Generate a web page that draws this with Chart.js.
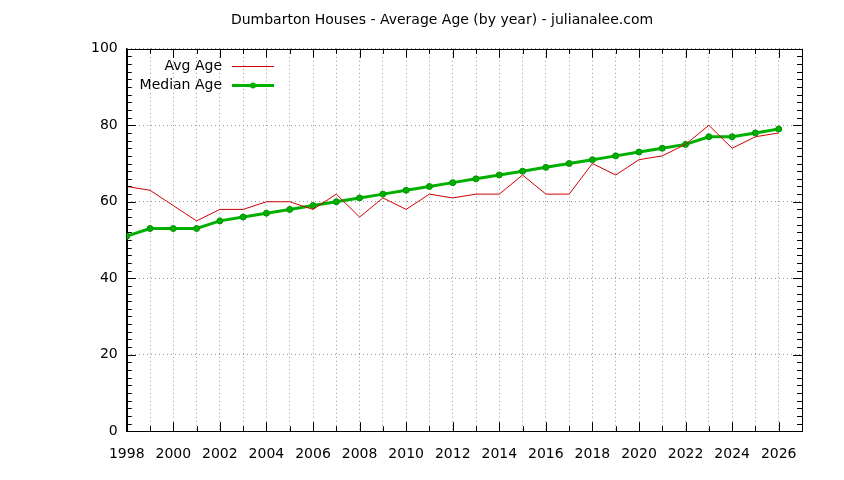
<!DOCTYPE html>
<html>
<head>
<meta charset="utf-8">
<script src="https://cdn.jsdelivr.net/npm/chart.js@4/dist/chart.umd.min.js"></script>
<style>
  body { margin: 0; background: #fff; }
  canvas { display: block; }
</style>
</head>
<body>
<canvas id="ageChart" width="844" height="480"></canvas>
<script>
// Chart data
const years = [1998, 1999, 2000, 2001, 2002, 2003, 2004, 2005, 2006, 2007, 2008, 2009, 2010, 2011, 2012,
  2013, 2014, 2015, 2016, 2017, 2018, 2019, 2020, 2021, 2022, 2023, 2024, 2025, 2026];
const avgAge = [64, 63, 59, 55, 58, 58, 60, 60, 58, 62, 56, 61, 58, 62, 61,
  62, 62, 67, 62, 62, 70, 67, 71, 72, 75, 80, 74, 77, 78];
const medianAge = [51, 53, 53, 53, 55, 56, 57, 58, 59, 60, 61, 62, 63, 64, 65,
  66, 67, 68, 69, 70, 71, 72, 73, 74, 75, 77, 77, 78, 79];
const yTicks = [0, 20, 40, 60, 80, 100];
const xLabelYears = [1998, 2000, 2002, 2004, 2006, 2008, 2010, 2012, 2014, 2016, 2018, 2020, 2022, 2024, 2026];

const FONT = 'DejaVu Sans, Verdana, sans-serif';

// Inward gnuplot-style ticks on all four sides, plus the in-plot legend
const gnuplotDecor = {
  id: 'gnuplotDecor',
  afterDraw(chart) {
    const { ctx, chartArea: a, scales: { x, y } } = chart;
    ctx.save();
    ctx.strokeStyle = '#000';
    ctx.lineWidth = 1;
    ctx.beginPath();
    for (let yr = 1998; yr <= 2027; yr++) {
      const px = Math.round(x.getPixelForValue(yr)) + 0.5;
      const len = yr % 2 === 0 ? 9 : 5;
      ctx.moveTo(px, a.bottom); ctx.lineTo(px, a.bottom - len);
      ctx.moveTo(px, a.top); ctx.lineTo(px, a.top + len);
    }
    for (let v = 0; v <= 100; v += 2) {
      const py = Math.round(y.getPixelForValue(v)) + 0.5;
      const len = v % 20 === 0 ? 9 : 5;
      ctx.moveTo(a.left, py); ctx.lineTo(a.left + len, py);
      ctx.moveTo(a.right, py); ctx.lineTo(a.right - len, py);
    }
    ctx.stroke();

    // legend
    ctx.font = '14px ' + FONT;
    ctx.textAlign = 'right';
    ctx.textBaseline = 'middle';
    chart.data.datasets.forEach((ds, i) => {
      const rowY = 66 + i * 19;
      ctx.fillStyle = '#000';
      ctx.fillText(ds.label, 222, rowY);
      ctx.strokeStyle = ds.borderColor;
      ctx.lineWidth = ds.borderWidth;
      ctx.beginPath();
      ctx.moveTo(232, rowY + 0.5);
      ctx.lineTo(274, rowY + 0.5);
      ctx.stroke();
      if (ds.pointRadius > 0) {
        ctx.fillStyle = ds.pointBackgroundColor;
        ctx.beginPath();
        ctx.arc(253, rowY + 0.5, ds.pointRadius, 0, Math.PI * 2);
        ctx.fill();
      }
    });
    ctx.restore();
  }
};

// Solid black box round the plot area
const plotFrame = {
  id: 'plotFrame',
  beforeDatasetsDraw(chart) {
    const { ctx, chartArea: a } = chart;
    ctx.save();
    ctx.strokeStyle = '#000';
    ctx.lineWidth = 1;
    ctx.strokeRect(Math.round(a.left) + 0.5, Math.round(a.top) + 0.5,
      Math.round(a.right - a.left), Math.round(a.bottom - a.top));
    ctx.restore();
  },
};

function initAgeChart() {
  const ctx = document.getElementById('ageChart').getContext('2d');
  // eslint-disable-next-line no-undef
  new Chart(ctx, {
    type: 'line',
    data: {
      datasets: [
        {
          label: 'Avg Age',
          data: years.map((yr, i) => ({ x: yr, y: avgAge[i] })),
          borderColor: '#d00000',
          borderWidth: 1,
          pointRadius: 0,
          tension: 0,
        },
        {
          label: 'Median Age',
          data: years.map((yr, i) => ({ x: yr, y: medianAge[i] })),
          borderColor: '#00b000',
          backgroundColor: '#00b000',
          pointBackgroundColor: '#00b000',
          pointBorderColor: '#009000',
          pointBorderWidth: 1,
          borderWidth: 3,
          pointRadius: 3,
          tension: 0,
        },
      ],
    },
    options: {
      responsive: false,
      animation: false,
      layout: { padding: { top: 0, right: 42, bottom: 2, left: 82 } },
      plugins: {
        legend: { display: false },
        tooltip: { enabled: false },
        title: {
          display: true,
          text: 'Dumbarton Houses - Average Age (by year) - julianalee.com',
          color: '#000',
          font: { family: FONT, size: 14, weight: 'normal' },
          padding: { top: 12, bottom: 20 },
        },
      },
      scales: {
        x: {
          type: 'linear',
          min: 1998,
          max: 2027,
          afterBuildTicks: (s) => { s.ticks = years.concat([2027]).map((v) => ({ value: v })); },
          grid: { color: '#999', lineWidth: 1, drawTicks: false },
          // dash here makes the grid lines dotted, like gnuplot
          border: { display: true, color: '#000', width: 1, dash: [1, 3] },
          ticks: {
            color: '#000',
            padding: 15,
            maxRotation: 0,
            autoSkip: false,
            font: { family: FONT, size: 14 },
            callback: (v) => (xLabelYears.includes(v) ? String(v) : ''),
          },
        },
        y: {
          min: 0,
          max: 100,
          afterBuildTicks: (s) => { s.ticks = yTicks.map((v) => ({ value: v })); },
          grid: { color: '#999', lineWidth: 1, drawTicks: false },
          border: { display: true, color: '#000', width: 1, dash: [1, 3] },
          ticks: {
            color: '#000',
            padding: 9,
            font: { family: FONT, size: 14 },
          },
        },
      },
    },
    plugins: [gnuplotDecor, plotFrame],
  });
}

document.addEventListener('DOMContentLoaded', initAgeChart);
</script>
</body>
</html>
